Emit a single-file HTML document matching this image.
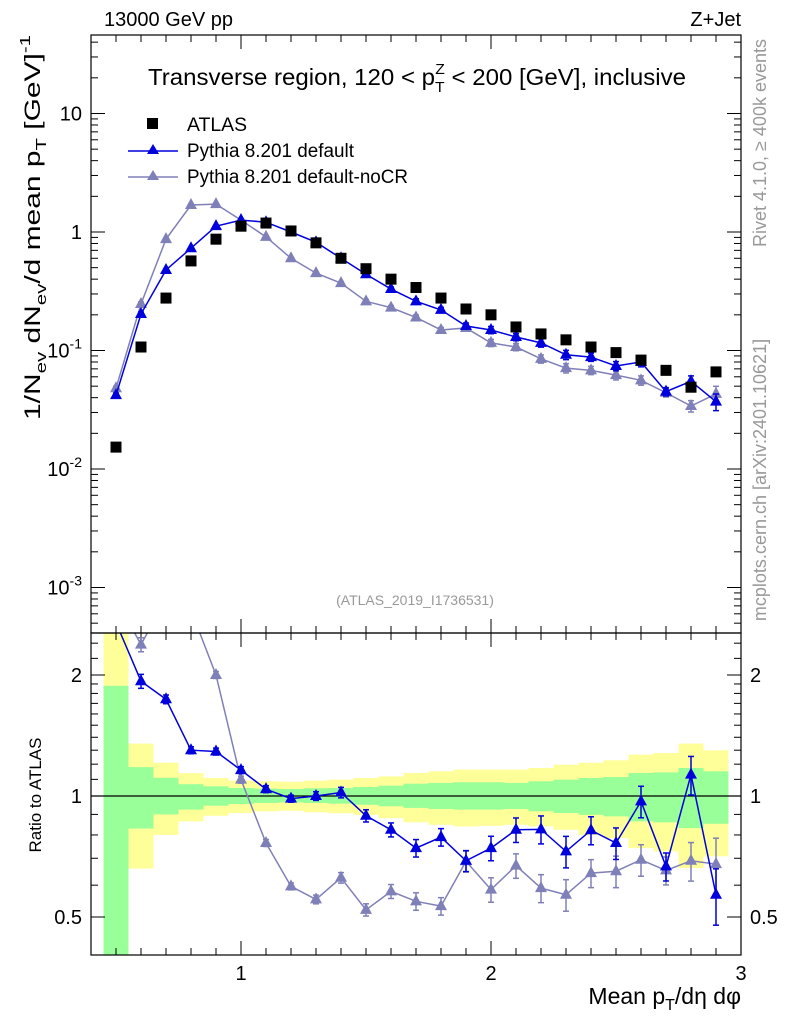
<!DOCTYPE html>
<html><head><meta charset="utf-8"><style>
body{margin:0;background:#fff}
svg{display:block;font-family:"Liberation Sans",Arial,sans-serif}
</style></head><body>
<svg id="chart" width="786" height="1024" viewBox="0 0 786 1024" xmlns="http://www.w3.org/2000/svg">
<defs>
<clipPath id="clipMain"><rect x="91" y="35" width="650" height="598"/></clipPath>
<clipPath id="clipRatio"><rect x="91" y="633" width="650" height="322"/></clipPath>
</defs>
<g id="bands" clip-path="url(#clipRatio)"></g>
<g id="grid"></g>
<g id="marks"></g>
<rect x="91" y="35" width="650" height="598" fill="none" stroke="#000" stroke-width="1.2"/>
<rect x="91" y="633" width="650" height="322" fill="none" stroke="#000" stroke-width="1.2"/>
<text x="104" y="26" font-size="20">13000 GeV pp</text>
<text x="741" y="26" font-size="20" text-anchor="end">Z+Jet</text>
<text x="148" y="85" font-size="23" textLength="538" lengthAdjust="spacingAndGlyphs">Transverse region, 120 &lt; p<tspan font-size="15" dy="7">T</tspan><tspan font-size="15" dx="-9" dy="-18">Z</tspan><tspan dy="11"> &lt; 200 [GeV], inclusive</tspan></text>
<text x="415" y="605" font-size="14" fill="#999" text-anchor="middle">(ATLAS_2019_I1736531)</text>
<text transform="translate(766,143) rotate(-90)" font-size="18" fill="#999" text-anchor="middle">Rivet 4.1.0, ≥ 400k events</text>
<text transform="translate(766,480) rotate(-90)" font-size="18" fill="#999" text-anchor="middle">mcplots.cern.ch [arXiv:2401.10621]</text>
<text transform="translate(40,420) rotate(-90)" font-size="22" textLength="385" lengthAdjust="spacingAndGlyphs">1/N<tspan font-size="15" dy="6">ev</tspan><tspan dy="-6"> dN</tspan><tspan font-size="15" dy="6">ev</tspan><tspan dy="-6">/d mean p</tspan><tspan font-size="15" dy="6">T</tspan><tspan dy="-6"> [GeV]</tspan><tspan font-size="15" dy="-10">-1</tspan></text>
<text transform="translate(41,795) rotate(-90)" font-size="17" text-anchor="middle">Ratio to ATLAS</text>
<text x="741" y="1004" font-size="23" text-anchor="end">Mean p<tspan font-size="16" dy="6">T</tspan><tspan dy="-6">/dη dφ</tspan></text>
<g>
<rect x="147" y="118" width="11" height="11" fill="#000"/>
<text x="187" y="131" font-size="19" textLength="60" lengthAdjust="spacingAndGlyphs">ATLAS</text>
<line x1="128" y1="151" x2="178" y2="151" stroke="#0000dd" stroke-width="1.5"/>
<polygon points="153,144 159,154 147,154" fill="#0000dd"/>
<text x="187" y="157" font-size="19" textLength="167" lengthAdjust="spacingAndGlyphs">Pythia 8.201 default</text>
<line x1="128" y1="177" x2="178" y2="177" stroke="#8080b8" stroke-width="1.5"/>
<polygon points="153,170 159,180 147,180" fill="#8080b8"/>
<text x="187" y="183" font-size="19" textLength="221" lengthAdjust="spacingAndGlyphs">Pythia 8.201 default-noCR</text>
</g>
</svg>
<script>
const xs=[0.5,0.6,0.7,0.8,0.9,1.0,1.1,1.2,1.3,1.4,1.5,1.6,1.7,1.8,1.9,2.0,2.1,2.2,2.3,2.4,2.5,2.6,2.7,2.8,2.9];
const atlas=[0.0153,0.107,0.277,0.57,0.87,1.12,1.19,1.02,0.81,0.60,0.49,0.40,0.34,0.277,0.224,0.20,0.158,0.138,0.123,0.107,0.096,0.083,0.068,0.049,0.066];
const pyDef=[0.042,0.203,0.478,0.73,1.12,1.26,1.21,1.0,0.82,0.60,0.44,0.33,0.26,0.22,0.161,0.149,0.13,0.116,0.092,0.088,0.074,0.08,0.045,0.055,0.037];
const pyNoCR=[0.048,0.247,0.87,1.69,1.72,1.26,0.91,0.60,0.45,0.37,0.26,0.23,0.19,0.149,0.155,0.116,0.107,0.085,0.071,0.068,0.062,0.056,0.044,0.034,0.043];
const ratioDef=[2.7,1.93,1.74,1.30,1.29,1.16,1.04,0.985,1.0,1.02,0.893,0.824,0.742,0.79,0.69,0.742,0.824,0.826,0.728,0.822,0.764,0.97,0.668,1.13,0.568];
const ratioNoCR=[3.1,2.38,3.1,2.9,2.0,1.098,0.764,0.596,0.553,0.626,0.521,0.579,0.547,0.532,0.688,0.585,0.671,0.59,0.568,0.643,0.65,0.694,0.653,0.69,0.677];
const relErr=[0.04,0.04,0.025,0.02,0.02,0.02,0.02,0.02,0.025,0.03,0.035,0.04,0.05,0.05,0.06,0.07,0.07,0.08,0.09,0.08,0.09,0.09,0.08,0.11,0.16];
const yelHi=[3.0,1.35,1.21,1.14,1.109,1.092,1.088,1.085,1.092,1.098,1.109,1.119,1.141,1.152,1.163,1.163,1.163,1.174,1.196,1.21,1.227,1.267,1.279,1.35,1.299];
const yelLo=[0.3,0.66,0.80,0.865,0.893,0.907,0.916,0.919,0.911,0.906,0.898,0.881,0.860,0.848,0.840,0.843,0.848,0.840,0.824,0.80,0.786,0.742,0.728,0.662,0.708];
const grnHi=[1.88,1.18,1.11,1.07,1.057,1.047,1.043,1.041,1.045,1.047,1.053,1.061,1.073,1.078,1.082,1.082,1.078,1.088,1.098,1.109,1.115,1.141,1.145,1.174,1.152];
const grnLo=[0.3,0.83,0.90,0.925,0.946,0.955,0.961,0.964,0.961,0.957,0.951,0.943,0.934,0.928,0.925,0.925,0.928,0.916,0.907,0.898,0.890,0.865,0.860,0.832,0.853];
const xTicks=[1,2,3];
const mainTicks=[10,1,0.1,0.01,0.001];
const mainTickLabels=["10","1","10^-1","10^-2","10^-3"];
const ratioTicks=[2,1,0.5];
const ratioTickLabels=["2","1","0.5"];

const NS="http://www.w3.org/2000/svg";
const X=v=>91+(v-0.4)*250;
const Y=v=>232-Math.log10(v)*118.5;
const R=v=>796-Math.log2(v)*121;
function mk(parent,tag,attrs){const e=document.createElementNS(NS,tag);for(const k in attrs)e.setAttribute(k,attrs[k]);document.getElementById(parent).appendChild(e);return e;}
xs.forEach((x,i)=>{
  const x0=X(x-0.05),w=250*0.1;
  let e=mk('bands','rect',{x:x0,y:R(yelHi[i]),width:w,height:R(yelLo[i])-R(yelHi[i]),fill:'#ffff99'});
  
  
  e=mk('bands','rect',{x:x0,y:R(grnHi[i]),width:w,height:R(grnLo[i])-R(grnHi[i]),fill:'#99ff99'});
  
  
});
mk('grid','line',{x1:91,y1:R(1),x2:741,y2:R(1),stroke:'#000','stroke-width':1.3});
for(let k=5;k<=30;k++){
  const v=k/10,px=X(v),maj=(k%10===0),L=maj?14:7;
  [[633,-1],[35,1],[955,-1],[633,1]].forEach(([y0,d])=>mk('grid','line',{x1:px,y1:y0,x2:px,y2:y0+d*L,stroke:'#000','stroke-width':1}));
}
xTicks.forEach(v=>{const t=mk('grid','text',{x:X(v),y:980,'font-size':20,'text-anchor':'middle'});t.textContent=v;

});
for(let d=-4;d<=1;d++){for(let m=1;m<=9;m++){const v=m*Math.pow(10,d),py=Y(v);if(py<35||py>633)continue;const L=m===1?14:7;
mk('grid','line',{x1:91,y1:py,x2:91+L,y2:py,stroke:'#000'});mk('grid','line',{x1:741,y1:py,x2:741-L,y2:py,stroke:'#000'});}}
mainTicks.forEach((v,i)=>{const lab=mainTickLabels[i];const t=mk('grid','text',{x:82,y:Y(v)+7,'font-size':20,'text-anchor':'end'});


if(lab.includes('^')){const p=lab.split('^');t.textContent=p[0];const s=document.createElementNS(NS,'tspan');s.setAttribute('font-size','14');s.setAttribute('dy','-9');s.textContent=p[1];t.appendChild(s);}else t.textContent=lab;});
[0.5,0.6,0.7,0.8,0.9,1,1.1,1.2,1.3,1.4,1.5,1.6,1.7,1.8,1.9,2,2.2,2.4].forEach(v=>{const py=R(v);if(py<633||py>955)return;const L=(v===0.5||v===1||v===2)?14:7;
mk('grid','line',{x1:91,y1:py,x2:91+L,y2:py,stroke:'#000'});mk('grid','line',{x1:741,y1:py,x2:741-L,y2:py,stroke:'#000'});});
ratioTicks.forEach((v,i)=>{let t=mk('grid','text',{x:82,y:R(v)+7,'font-size':20,'text-anchor':'end'});t.textContent=ratioTickLabels[i];


t=mk('grid','text',{x:750,y:R(v)+7,'font-size':20});t.textContent=ratioTickLabels[i];

});
function series(vals,fy,color,clip,name){
  const g=mk('marks','g',{'clip-path':'url(#'+clip+')'});
  
  
  const pts=xs.map((x,i)=>X(x)+','+fy(vals[i])).join(' ');
  const pl=document.createElementNS(NS,'polyline');pl.setAttribute('points',pts);pl.setAttribute('fill','none');pl.setAttribute('stroke',color);pl.setAttribute('stroke-width','1.5');g.appendChild(pl);
  xs.forEach((x,i)=>{const px=X(x),py=fy(vals[i]);
    const e=relErr[i]*vals[i];const y1=fy(vals[i]+e),y2=fy(Math.max(vals[i]-e,1e-6));
    [['line',{x1:px,y1:y1,x2:px,y2:y2}],['line',{x1:px-3,y1:y1,x2:px+3,y2:y1}],['line',{x1:px-3,y1:y2,x2:px+3,y2:y2}]].forEach(([t,a])=>{const l=document.createElementNS(NS,t);for(const k in a)l.setAttribute(k,a[k]);l.setAttribute('stroke',color);l.setAttribute('stroke-width','1.5');g.appendChild(l);});
    const p=document.createElementNS(NS,'polygon');p.setAttribute('points',`${px},${py-7} ${px+6},${py+4} ${px-6},${py+4}`);p.setAttribute('fill',color);
    
    
    g.appendChild(p);});
}
series(pyNoCR,Y,'#8080b8','clipMain','pythia-nocr-series');
series(pyDef,Y,'#0000dd','clipMain','pythia-default-series');
series(ratioNoCR,R,'#8080b8','clipRatio','ratio-nocr-series');
series(ratioDef,R,'#0000dd','clipRatio','ratio-default-series');
xs.forEach((x,i)=>{const r=mk('marks','rect',{x:X(x)-5.5,y:Y(atlas[i])-5.5,width:11,height:11,fill:'#000'});

});
</script>
</body></html>
